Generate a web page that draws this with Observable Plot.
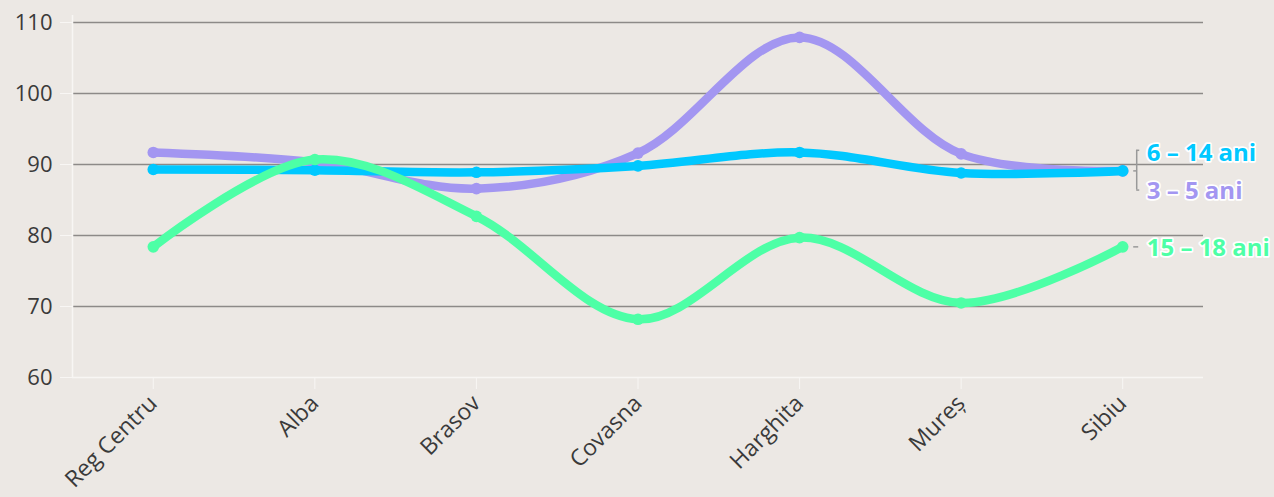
<!DOCTYPE html>
<html>
<head>
<meta charset="utf-8">
<script src="https://cdn.jsdelivr.net/npm/d3@7"></script>
<script src="https://cdn.jsdelivr.net/npm/@observablehq/plot@0.6"></script>
<style>
  html, body { margin: 0; padding: 0; background: #ece8e4; }
  #chart svg { display: block; }
</style>
</head>
<body>
<div id="chart"></div>
<script>
const categories = ["Reg Centru", "Alba", "Brasov", "Covasna", "Harghita", "Mureș", "Sibiu"];
const seriesNames = ["3 – 5 ani", "6 – 14 ani", "15 – 18 ani"];
const seriesColors = ["#a396f1", "#00c8ff", "#4dffa6"];
const ani3_5   = [91.7, 90.3, 86.6, 91.6, 107.9, 91.5, 89.1];
const ani6_14  = [89.3, 89.2, 88.9, 89.8, 91.7, 88.8, 89.1];
const ani15_18 = [78.4, 90.7, 82.7, 68.2, 79.7, 70.5, 78.4];
const yTicks = [60, 70, 80, 90, 100, 110];
const gridTicks = [70, 80, 90, 100, 110];

const allSeries = [ani3_5, ani6_14, ani15_18];
const data = allSeries.flatMap((vals, s) =>
  vals.map((v, i) => ({ i, value: v, series: seriesNames[s] })));

const last = categories.length - 1;
const labels = [
  { name: seriesNames[1], value: ani6_14[last], color: seriesColors[1], dy: -18 },
  { name: seriesNames[0], value: ani3_5[last], color: seriesColors[0], dy: 20 },
  { name: seriesNames[2], value: ani15_18[last], color: seriesColors[2], dy: 1 }
];

const font = "'Open Sans', 'DejaVu Sans', sans-serif";
const gridColor = "#8d8a88";
const axisColor = "#f8f6f4";

const marks = [
  Plot.ruleY(gridTicks, { x1: -0.5, x2: last + 0.5, stroke: gridColor, strokeWidth: 1.6 }),
  Plot.ruleY([60], { x1: -0.5, x2: last + 0.5, stroke: axisColor, strokeWidth: 1.5 }),
  Plot.ruleX([-0.5], { y1: 60, y2: 111, stroke: axisColor, strokeWidth: 1.5 }),
  Plot.axisY({ ticks: yTicks, tickSize: 12, tickPadding: 8, stroke: axisColor, fill: "#3a3a3a", fontSize: 22, label: null }),
  Plot.axisX({ ticks: d3.range(categories.length), tickFormat: i => categories[i], tickSize: 12, tickPadding: 10,
    tickRotate: -45, stroke: axisColor, fill: "#3a3a3a", fontSize: 23, label: null })
];

seriesNames.forEach((name, s) => {
  const d = data.filter(r => r.series === name);
  marks.push(Plot.line(d, { x: "i", y: "value", stroke: seriesColors[s], strokeWidth: 8.5, curve: "catmull-rom", strokeLinecap: "round" }));
  marks.push(Plot.dot(d, { x: "i", y: "value", fill: seriesColors[s], r: 5.8 }));
});

// bracket and leaders
marks.push(
  Plot.ruleX([last], { y1: 92.0, y2: 86.4, dx: 14, stroke: "#999", strokeWidth: 1.5 }),
  Plot.ruleY([92.0, 86.4], { x1: last, x2: last, dx: 14, insetRight: -3, stroke: "#999", strokeWidth: 1.5 }),
  Plot.ruleY([ani6_14[last]], { x1: last, x2: last, dx: 14, insetLeft: -3, stroke: "#999", strokeWidth: 1.5 }),
  Plot.ruleY([ani15_18[last]], { x1: last, x2: last, dx: 14, insetLeft: -3, insetRight: -2, stroke: "#999", strokeWidth: 1.5 })
);

labels.forEach(l => {
  marks.push(Plot.text([l], { x: () => last, y: "value", text: "name", dx: 24, dy: l.dy, textAnchor: "start",
    fill: l.color, stroke: "white", strokeWidth: 3.5, paintOrder: "stroke", fontWeight: "bold", fontSize: 24 }));
});

const chart = Plot.plot({
  width: 1274,
  height: 497,
  marginLeft: 72,
  marginRight: 71,
  marginTop: 22,
  marginBottom: 120,
  style: { background: "#ece8e4", fontFamily: font },
  x: { type: "linear", domain: [-0.5, last + 0.5], axis: null },
  y: { domain: [60, 110], axis: null },
  marks
});
document.getElementById("chart").appendChild(chart);
</script>
</body>
</html>
